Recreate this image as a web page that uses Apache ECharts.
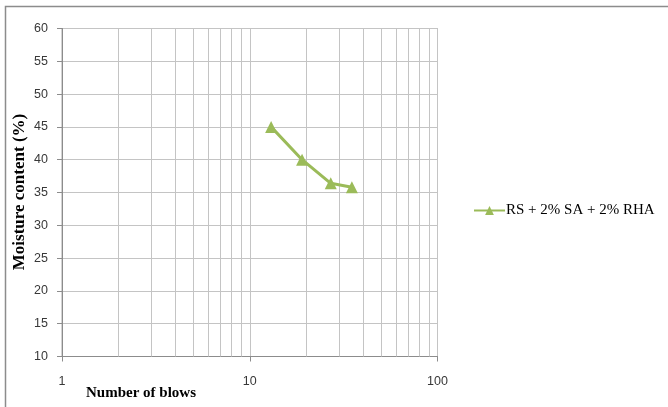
<!DOCTYPE html>
<html>
<head>
<meta charset="utf-8">
<script src="https://cdn.jsdelivr.net/npm/echarts@6/dist/echarts.min.js"></script>
<style>
  html, body { margin: 0; padding: 0; background: #fff; }
  #chart { width: 668px; height: 407px; }
</style>
</head>
<body>
<div id="chart"></div>
<script>
// Liquid limit test: moisture content against number of blows (log scale)
const seriesName = 'RS + 2% SA + 2% RHA';
const blows = [13, 19, 27, 35];
const moisture = [45, 40, 36.4, 35.8];
const minorBlowLines = [2, 3, 4, 5, 6, 7, 8, 9, 20, 30, 40, 50, 60, 70, 80, 90];
const yTicks = { min: 10, max: 60, step: 5 };
const xRange = { min: 1, max: 100 };
const xTitle = 'Number of blows';
const yTitle = 'Moisture content (%)';

const gridColor = '#c4c4c4';
const chart = echarts.init(document.getElementById('chart'), null, { renderer: 'canvas' });

chart.setOption({
  animation: false,
  backgroundColor: '#ffffff',
  grid: {
    left: 62, top: 28.5, right: 230.5, bottom: 50.5,
    outerBoundsMode: 'none', containLabel: false,
    show: true, borderColor: '#a6a6a6', borderWidth: 1, backgroundColor: 'transparent'
  },
  xAxis: {
    type: 'log',
    logBase: 10,
    min: xRange.min,
    max: xRange.max,
    axisLine: { show: true, onZero: false, lineStyle: { color: '#8c8c8c', width: 1 } },
    axisTick: { show: true, length: 5, inside: false, lineStyle: { color: '#8c8c8c' } },
    axisLabel: { margin: 19, color: '#383838', fontFamily: 'Liberation Sans', fontSize: 12.5 },
    splitLine: { show: true, lineStyle: { color: gridColor, width: 1 } }
  },
  yAxis: {
    type: 'value',
    min: yTicks.min,
    max: yTicks.max,
    interval: yTicks.step,
    axisLine: { show: true, lineStyle: { color: '#8c8c8c', width: 1 } },
    axisTick: { show: true, length: 5, inside: false, lineStyle: { color: '#8c8c8c' } },
    axisLabel: { margin: 14, color: '#383838', fontFamily: 'Liberation Sans', fontSize: 12.5 },
    splitLine: { show: true, lineStyle: { color: gridColor, width: 1 } }
  },
  legend: {
    show: true,
    data: [seriesName],
    orient: 'vertical',
    left: 468,
    top: 198,
    itemWidth: 31,
    itemHeight: 11,
    textStyle: { fontFamily: 'Liberation Serif', fontSize: 15, color: '#000', padding: [0, 0, 0, -4] }
  },
  graphic: [
    {
      type: 'rect',
      shape: { x: 5.5, y: 6.5, width: 720, height: 460 },
      style: { fill: null, stroke: '#8c8c8c', lineWidth: 1.5 },
      silent: true, z: 0
    },
    {
      type: 'text',
      left: 86,
      top: 386,
      style: { text: xTitle, font: 'bold 15px "Liberation Serif"', fill: '#000' }
    },
    {
      type: 'text',
      x: 20,
      y: 192,
      rotation: Math.PI / 2,
      style: {
        text: yTitle, font: 'bold 17px "Liberation Serif"', fill: '#000',
        align: 'center', verticalAlign: 'middle'
      }
    }
  ],
  series: [
    {
      // minor log grid lines for the blow-count axis
      type: 'line',
      data: [],
      silent: true,
      markLine: {
        silent: true,
        symbol: 'none',
        label: { show: false },
        lineStyle: { type: 'solid', color: gridColor, width: 1 },
        data: minorBlowLines.map(v => ({ xAxis: v }))
      },
      z: 1
    },
    {
      name: seriesName,
      type: 'line',
      data: blows.map((b, i) => [b, moisture[i]]),
      symbol: 'triangle',
      symbolSize: 12,
      lineStyle: { color: '#9bbb59', width: 3 },
      itemStyle: { color: '#9bbb59' },
      z: 5
    }
  ]
});
</script>
</body>
</html>
